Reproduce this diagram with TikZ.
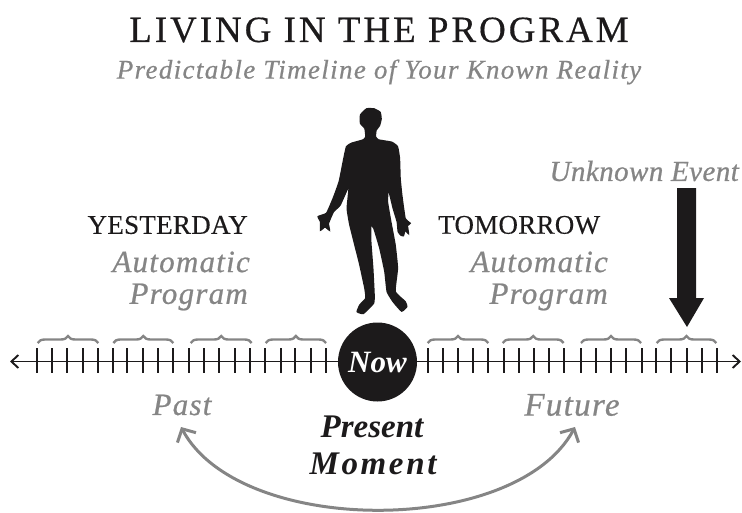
\documentclass[tikz,border=0pt]{standalone}
\usepackage{fontspec}
\setmainfont{Liberation Serif}
\usetikzlibrary{arrows.meta,decorations.pathreplacing,calc}
\definecolor{scriptgray}{HTML}{858585}
\definecolor{ink}{HTML}{1C1A1B}
\tikzset{
  x=1pt,y=-1pt,
  titletext/.style={font=\fontsize{37}{37}\selectfont\addfontfeature{LetterSpace=8,FakeBold=0.4},text=ink,inner sep=0pt},
  subtext/.style={font=\fontsize{27}{27}\selectfont\itshape\addfontfeature{LetterSpace=5,FakeBold=0.6},text=scriptgray,inner sep=0pt},
  capstext/.style={font=\fontsize{27}{27}\selectfont\addfontfeature{LetterSpace=1,FakeBold=0.3},text=ink,inner sep=0pt},
  scripttext/.style={font=\fontsize{31}{31}\selectfont\itshape\addfontfeature{LetterSpace=4,FakeBold=0.7},text=scriptgray,inner sep=0pt},
  momenttext/.style={font=\fontsize{33}{33}\selectfont\itshape\bfseries,text=ink,inner sep=0pt},
  axisline/.style={draw=ink,line width=1.3pt},
  tickmark/.style={draw=ink,line width=2pt},
  bracemark/.style={draw=scriptgray,line width=2.4pt,decorate,decoration={brace,amplitude=7pt,aspect=0.5}},
  cyclearrow/.style={draw=scriptgray,line width=3pt,{Straight Barb[length=10pt,width=21pt,line width=3pt]}-{Straight Barb[length=10pt,width=21pt,line width=3pt]}},
}
\newcommand{\tickrun}[1]{\foreach \tx in {#1}{\draw[tickmark] (\tx,348) -- (\tx,373);}}
\begin{document}
\begin{tikzpicture}
\useasboundingbox (0,0) rectangle (742,512);
% title
\node[titletext] (title) at (379,30) {LIVING IN THE PROGRAM};
\node[subtext] (subtitle) at (379,72) {Predictable Timeline of Your Known Reality};
% labels
\node[capstext,anchor=east] (yesterday) at (248,225) {YESTERDAY};
\node[scripttext,anchor=east] (autoL) at (250,262) {Automatic};
\node[scripttext,anchor=east] (progL) at (248,297) {Program};
\node[capstext,anchor=west] (tomorrow) at (438,225) {TOMORROW};
\node[scripttext,anchor=east] (autoR) at (608,262) {Automatic};
\node[scripttext,anchor=east] (progR) at (608,297) {Program};
\node[scripttext,anchor=east,font=\fontsize{29}{29}\selectfont\itshape\addfontfeature{LetterSpace=1.5,FakeBold=0.7}] (unknown) at (739,171) {Unknown Event};
\node[scripttext] (past) at (182,405) {Past};
\node[scripttext,font=\fontsize{33}{33}\selectfont\itshape\addfontfeature{LetterSpace=4,FakeBold=0.7}] (future) at (572,405) {Future};
\node[momenttext] (present) at (372,427) {Present};
\node[momenttext,font=\fontsize{33}{33}\selectfont\itshape\bfseries\addfontfeature{LetterSpace=8}] (moment) at (373,464) {Moment};
% axis
\coordinate (axL) at (10,361.5);
\coordinate (axR) at (741,361.5);
\draw[axisline,{Straight Barb[length=7pt,width=13pt,line width=1.9pt]}-{Straight Barb[length=7pt,width=13pt,line width=1.9pt]}] (axL) -- (axR);
\tickrun{36.7,51.7,67.3,82.7,98,112.7,127.3,142.7,158,173.3,189.3,204,219.3,234.7,250,265.3,280.7,295.3,310.7,326}
\tickrun{427.7,442.7,457.7,472.7,488.3,503.7,519,534.3,549,564.3,581,595.7,611,626.3,641.7,656,671,686.7,701.7,717}
% braces
\foreach \a/\b in {37.7/98.3,113.3/173.3,190.7/251.7,265.7/326,427.7/488.3,502.7/563.7,581/641,656.7/716.3}{
  \draw[bracemark] (\a,343) -- (\b,343);
}
% now circle
\node[circle,fill=ink,minimum size=79pt,inner sep=0pt,text=white,font=\fontsize{31}{31}\selectfont\itshape\bfseries] (now) at (377.5,362) {Now};
% big arrow
\fill[ink] (677,188) -- (696,188) -- (696,298) -- (704,298) -- (687,327) -- (669,298) -- (677,298) -- cycle;
% curved arrow
\coordinate (cycL) at (181,427);
\coordinate (cycR) at (575,427);
\draw[cyclearrow] (cycL) .. controls (240,537) and (516,537) .. (cycR);
% figure
\begin{scope}[shift={(300,95)},x=0.3333pt,y=-0.3333pt]
\filldraw[ink,line width=1.6pt] plot[smooth cycle,tension=0.25] coordinates {
(200,42)(222,42)(240,52)(243,72)(238,92)(228,105)(226,125)(235,135)(275,142)(292,155)(298,190)(300,250)(305,300)(315,370)(330,385)(322,392)(325,415)(315,405)(310,422)(303,420)(295,410)(292,380)(280,340)(265,280)(262,320)(272,380)(285,450)(292,520)(285,590)(315,620)(320,635)(305,648)(280,620)(262,590)(255,530)(240,460)(222,400)(212,390)(212,440)(218,520)(222,600)(220,625)(190,655)(172,650)(180,630)(198,610)(195,580)(180,510)(165,450)(150,390)(142,340)(148,270)(120,330)(100,350)(85,385)(88,405)(75,395)(62,405)(62,380)(55,365)(80,355)(100,310)(118,260)(132,190)(140,155)(155,145)(190,135)(198,125)(195,100)(182,85)(182,60)};
\end{scope}
\end{tikzpicture}
\end{document}
